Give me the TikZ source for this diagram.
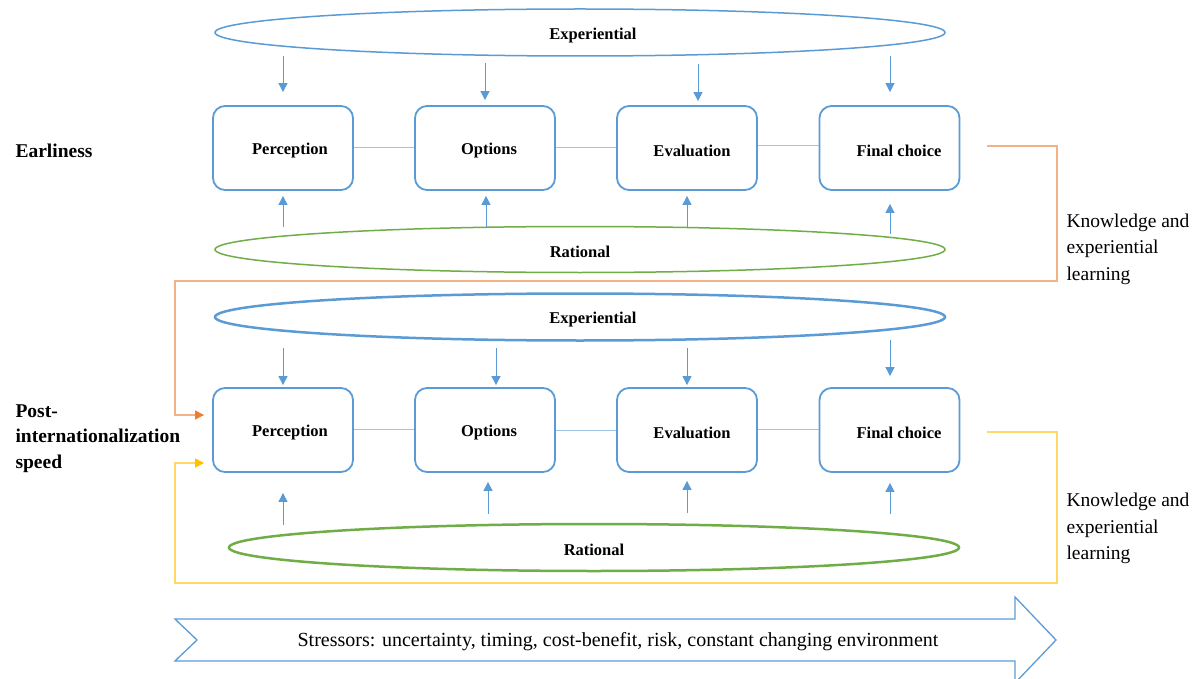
\documentclass[tikz,border=0pt]{standalone}
\usepackage{fontspec}
\setmainfont{Liberation Serif}
\usetikzlibrary{arrows.meta,shapes.geometric,calc}
\definecolor{bl}{HTML}{5B9BD5}
\definecolor{bll}{HTML}{9DC3E6}
\definecolor{gr}{HTML}{70AD47}
\definecolor{orL}{HTML}{F4B183}
\definecolor{orD}{HTML}{ED7D31}
\definecolor{ylL}{HTML}{FFD966}
\definecolor{ylD}{HTML}{FFC000}
\begin{document}
\begin{tikzpicture}[x=1pt,y=-1pt,
  box/.style={draw=bl, line width=1.8pt, rounded corners=12pt, minimum width=140pt, minimum height=84pt, inner sep=0pt},
  blab/.style={font=\fontsize{16.5}{19}\selectfont\bfseries},
  side/.style={anchor=west, align=left, font=\fontsize{19.5}{25.5}\selectfont\bfseries},
  know/.style={anchor=west, align=left, font=\fontsize{19.5}{26.5}\selectfont},
  arr/.style={draw=bl, line width=1pt, -{Triangle[length=9pt,width=9pt]}},
  ell/.style={ellipse, inner sep=0pt, fill=white},
  link/.style={draw=bll, line width=1pt},
  fb/.style={line width=1.1pt}
]
\useasboundingbox (0,0) rectangle (1199,679);

% ---------- top section ----------
\node[ell, draw=bl, line width=1.5pt, minimum width=730pt, minimum height=47pt] (e1) at (580,32.5) {};
\node[blab] (e1t) at (593,36) {Experiential};
\node[ell, draw=gr, line width=1.5pt, minimum width=730pt, minimum height=46pt] (r1) at (580,249.5) {};
\node[blab] (r1t) at (580,252) {Rational};

\node[box] (p1) at (283,148) {};
\node[box] (p2) at (485,148) {};
\node[box] (p3) at (687,148) {};
\node[box] (p4) at (889.5,148) {};
\node[blab] (p1t) at (290,151) {Perception};
\node[blab] (p2t) at (489,151) {Options};
\node[blab] (p3t) at (692,151) {Evaluation};
\node[blab] (p4t) at (899,151) {Final choice};

\draw[link] (p1.east) -- (p2.west);
\draw[link] (p2.east) -- (p3.west);
\draw[link] ([yshift=2pt]p3.east) -- ([yshift=2pt]p4.west);

\draw[arr] ($(p1.north)+(0,-49)$) -- ($(p1.north)+(0,-13)$);
\draw[arr] ($(p2.north)+(0,-42)$) -- ($(p2.north)+(0,-5)$);
\draw[arr] ($(p3.north)+(11,-41)$) -- ($(p3.north)+(11,-4)$);
\draw[arr] ($(p4.north)+(0.5,-49)$) -- ($(p4.north)+(0.5,-13)$);

\draw[arr] ($(p1.south)+(0,36)$) -- ($(p1.south)+(0,5)$);
\draw[arr] ($(p2.south)+(1,37)$) -- ($(p2.south)+(1,5)$);
\draw[arr] ($(p3.south)+(0,37)$) -- ($(p3.south)+(0,5)$);
\draw[arr] ($(p4.south)+(0.5,43)$) -- ($(p4.south)+(0.5,13)$);

\node[side] (earl) at (12,151) {Earliness};
\node[know] (k1) at (1063,249) {Knowledge and\\experiential\\learning};

% ---------- bottom section ----------
\node[ell, draw=bl, line width=2.5pt, minimum width=730pt, minimum height=47pt] (e2) at (580,317) {};
\node[blab] (e2t) at (593,320) {Experiential};
\node[ell, draw=gr, line width=2.5pt, minimum width=730pt, minimum height=47pt] (r2) at (594,547.5) {};
\node[blab] (r2t) at (594,550) {Rational};

\node[box] (q1) at (283,430) {};
\node[box] (q2) at (485,430) {};
\node[box] (q3) at (687,430) {};
\node[box] (q4) at (889.5,430) {};
\node[blab] (q1t) at (290,433) {Perception};
\node[blab] (q2t) at (489,433) {Options};
\node[blab] (q3t) at (692,433) {Evaluation};
\node[blab] (q4t) at (899,433) {Final choice};

\draw[link] ([yshift=1pt]q1.east) -- ([yshift=1pt]q2.west);
\draw[link] (q2.east) -- (q3.west);
\draw[link] ([yshift=1pt]q3.east) -- ([yshift=1pt]q4.west);

\draw[arr] ($(q1.north)+(0,-39)$) -- ($(q1.north)+(0,-2)$);
\draw[arr] ($(q2.north)+(11,-39)$) -- ($(q2.north)+(11,-2)$);
\draw[arr] ($(q3.north)+(0,-39)$) -- ($(q3.north)+(0,-2)$);
\draw[arr] ($(q4.north)+(0.5,-47)$) -- ($(q4.north)+(0.5,-11)$);

\draw[arr] ($(q1.south)+(0,52)$) -- ($(q1.south)+(0,20)$);
\draw[arr] ($(q2.south)+(3,41)$) -- ($(q2.south)+(3,9)$);
\draw[arr] ($(q3.south)+(0,40)$) -- ($(q3.south)+(0,8)$);
\draw[arr] ($(q4.south)+(0.5,41)$) -- ($(q4.south)+(0.5,10)$);

\node[side] (post) at (12,438.5) {Post-\\internationalization\\speed};
\node[know] (k2) at (1063,528.5) {Knowledge and\\experiential\\learning};

% ---------- feedback loops ----------
\coordinate (o1) at ($(p4.east)+(27,-2)$);
\coordinate (o2) at ($(q1.west)+(-8,-15)$);
\draw[fb, draw=orL, -{Triangle[length=9pt,width=9pt,color=orD]}]
  (o1) -- (1057,146) -- (1057,281) -- (175,281) -- (175,415) -- (o2);

\coordinate (y1) at ($(q4.east)+(27,2)$);
\coordinate (y2) at ($(q1.west)+(-8,33)$);
\draw[fb, draw=ylL, -{Triangle[length=9pt,width=9pt,color=ylD]}]
  (y1) -- (1057,432) -- (1057,583) -- (175,583) -- (175,463) -- (y2);

% ---------- stressors arrow ----------
\draw[draw=bl, line width=1.3pt, line join=miter]
  (175,619) -- (1015,619) -- (1015,597) -- (1056,640) -- (1015,683) -- (1015,661) -- (175,661) -- (197,640) -- cycle;
\node[font=\fontsize{20}{24}\selectfont] (str) at (618,642) {Stressors: uncertainty, timing, cost-benefit, risk, constant changing environment};
\end{tikzpicture}
\end{document}
